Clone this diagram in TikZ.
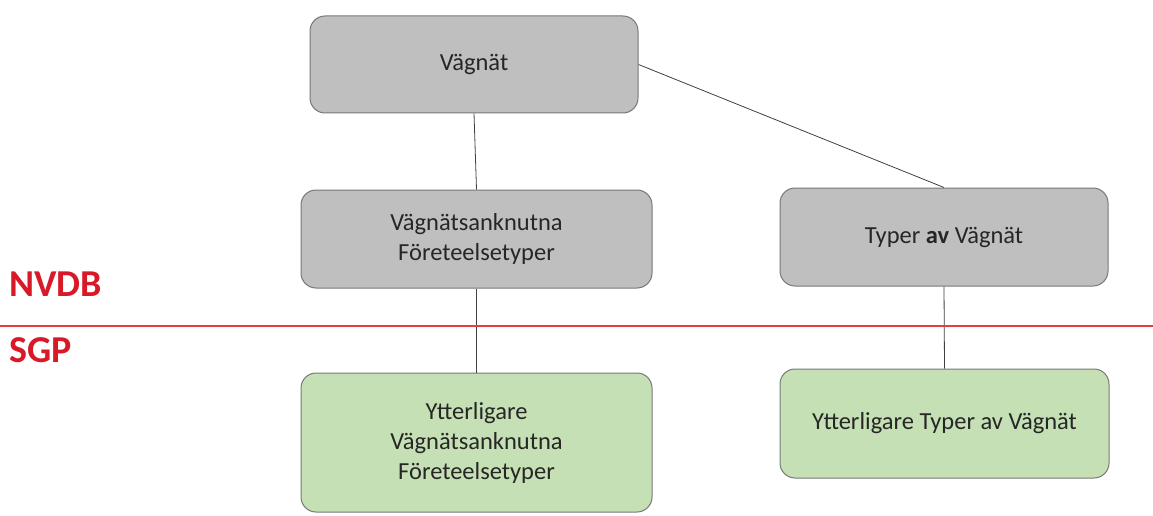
\documentclass[tikz,border=0pt]{standalone}
\usepackage{fontspec}
\setmainfont{Carlito}
\definecolor{boxgray}{RGB}{191,191,191}
\definecolor{boxgreen}{RGB}{197,224,180}
\definecolor{edgegray}{RGB}{120,120,120}
\definecolor{txt}{RGB}{38,38,38}
\definecolor{lblred}{RGB}{215,25,40}
\definecolor{linered}{RGB}{230,60,70}
\begin{document}
\begin{tikzpicture}[x=1pt,y=-1pt,
  box/.style={draw=edgegray, line width=1pt, rounded corners=15pt, inner sep=0pt,
    align=center, text=txt, font=\fontsize{24.5}{30}\selectfont},
  graybox/.style={box, fill=boxgray},
  greenbox/.style={box, fill=boxgreen},
  conn/.style={draw=black!75, line width=0.8pt},
  lbl/.style={anchor=west, text=lblred, font=\fontsize{38}{40}\selectfont\bfseries, inner sep=0pt}]
\useasboundingbox (0,0) rectangle (1153,516);
\node[graybox, minimum width=328pt, minimum height=97pt] (v) at (474,64.5) {Vägnät};
\node[graybox, minimum width=351pt, minimum height=98pt] (a) at (476.5,239) {Vägnätsanknutna\\Företeelsetyper};
\node[graybox, minimum width=328pt, minimum height=98pt] (t) at (944,237) {Typer \textbf{av} Vägnät};
\node[greenbox, minimum width=351pt, minimum height=139pt] (ga) at (476.5,442.5) {Ytterligare\\Vägnätsanknutna\\Företeelsetyper};
\node[greenbox, minimum width=329pt, minimum height=109pt] (gt) at (944.5,423.5) {Ytterligare Typer av Vägnät};
\draw[conn] (v.south) -- (a.north);
\draw[conn] (v.east) -- (t.north);
\draw[conn] (a.south) -- (ga.north);
\draw[conn] (t.south) -- (gt.north);
\coordinate (rl) at (0,326);
\coordinate (rr) at (1153,326);
\draw[draw=linered, line width=1.2pt] (rl) -- (rr);
\node[lbl] (nvdb) at (9,284) {NVDB};
\node[lbl] (sgp) at (9,350) {SGP};
\end{tikzpicture}
\end{document}
